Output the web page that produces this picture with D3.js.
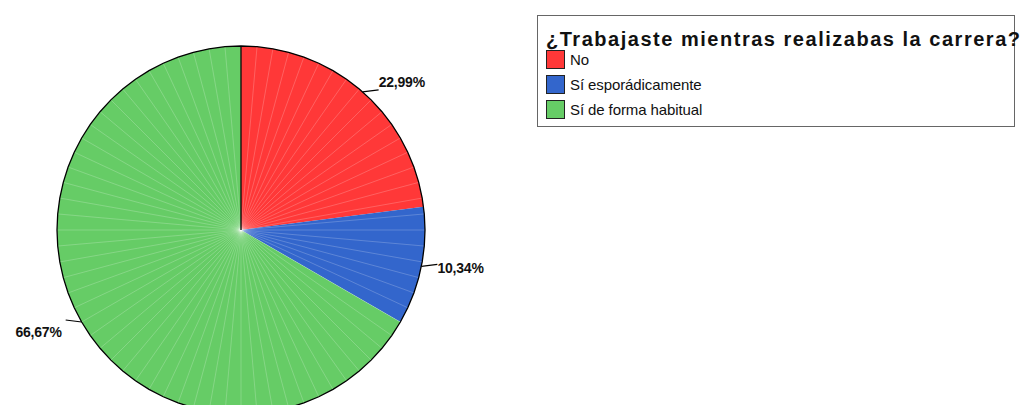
<!DOCTYPE html>
<html>
<head>
<meta charset="utf-8">
<script src="https://cdn.jsdelivr.net/npm/d3@7"></script>
<style>
  body { margin: 0; background: #fff; }
  svg { display: block; font-family: "Liberation Sans", Arial, sans-serif; }
</style>
</head>
<body>
<div id="chart"></div>
<script>
let w = 1022;
let h = 405;

// data
const title = "¿Trabajaste mientras realizabas la carrera?";
const categories = ["No", "Sí esporádicamente", "Sí de forma habitual"];
const percents = [22.99, 10.34, 66.67];
const colors = ["#ff3838", "#3366cc", "#66cc66"];

const cx = 241, cy = 230, r = 184;
const step = Math.PI / 36; // facet / stripe every 5 degrees

let svg = d3.select("#chart")
    .append("svg")
    .attr("width", w)
    .attr("height", h);

const pie = d3.pie().sort(null).value(d => d)(percents);
const color = d3.scaleOrdinal().domain(categories).range(colors);

const g = svg.append("g").attr("transform", `translate(${cx},${cy})`);

// angles for a slice, stepping on the facet grid
function sliceAngles(a0, a1) {
    const out = [a0];
    let a = Math.ceil(a0 / step + 1e-9) * step;
    for (; a < a1 - 1e-9; a += step) out.push(a);
    out.push(a1);
    return out;
}
const pt = a => [r * Math.sin(a), -r * Math.cos(a)];

// slices as faceted polygons
g.selectAll("path.slice")
    .data(pie)
    .enter()
    .append("path")
    .attr("class", "slice")
    .attr("fill", (d, i) => color(categories[i]))
    .attr("d", d => "M0,0L" + sliceAngles(d.startAngle, d.endAngle).map(pt).join("L") + "Z");

// faint radial stripes
const stripes = d3.range(0, 2 * Math.PI - 1e-9, step);
g.selectAll("line.stripe")
    .data(stripes)
    .enter()
    .append("line")
    .attr("x1", 0).attr("y1", 0)
    .attr("x2", a => pt(a)[0]).attr("y2", a => pt(a)[1])
    .attr("stroke", "#fff")
    .attr("stroke-opacity", 0.3)
    .attr("stroke-width", 0.7);

// outline
const outline = d3.lineRadial()
    .angle(a => a)
    .radius(r)
    .curve(d3.curveLinearClosed);
g.append("path")
    .attr("d", outline(stripes))
    .attr("fill", "none")
    .attr("stroke", "#000")
    .attr("stroke-width", 1.3);
g.append("line")
    .attr("x1", 0).attr("y1", 0).attr("x2", 0).attr("y2", -r)
    .attr("stroke", "#000").attr("stroke-width", 1.3);

// labels with leaders
const fmt = v => d3.format(".2f")(v).replace(".", ",") + "%";
pie.forEach(d => {
    const a = (d.startAngle + d.endAngle) / 2;
    const s = Math.sin(a) >= 0 ? 1 : -1;
    const [ex, ey] = pt(a);
    const lx = ex + s * 16, ly = ey - 2;
    g.append("line")
        .attr("x1", ex).attr("y1", ey).attr("x2", lx).attr("y2", ly)
        .attr("stroke", "#000").attr("stroke-width", 1.2);
    g.append("text")
        .attr("x", lx + (s > 0 ? 0 : -4))
        .attr("y", ly - Math.cos(a) * 12 + (s < 0 ? 6 : 1))
        .attr("dy", "0.35em")
        .attr("text-anchor", s > 0 ? "start" : "end")
        .attr("font-size", 14)
        .attr("font-weight", "bold")
        .attr("letter-spacing", -0.2)
        .attr("fill", "#111")
        .text(fmt(d.data));
});

// legend
const lg = svg.append("g");
lg.append("rect")
    .attr("x", 537.5).attr("y", 15.5)
    .attr("width", 477).attr("height", 111)
    .attr("fill", "#fff")
    .attr("stroke", "#666");
lg.append("text")
    .attr("x", 546).attr("y", 46)
    .attr("font-size", 20)
    .attr("font-weight", "bold")
    .attr("textLength", 474)
    .attr("lengthAdjust", "spacing")
    .attr("fill", "#111")
    .text(title);
const items = lg.selectAll("g.item")
    .data(categories)
    .enter()
    .append("g")
    .attr("transform", (d, i) => `translate(546,${50 + i * 25})`);
items.append("rect")
    .attr("x", 0.5).attr("y", 0.5)
    .attr("width", 18).attr("height", 18)
    .attr("fill", d => color(d))
    .attr("stroke", "#222");
items.append("text")
    .attr("x", 24).attr("y", 9.5)
    .attr("dy", "0.35em")
    .attr("font-size", 15)
    .attr("letter-spacing", -0.1)
    .attr("fill", "#111")
    .text(d => d);
</script>
</body>
</html>
